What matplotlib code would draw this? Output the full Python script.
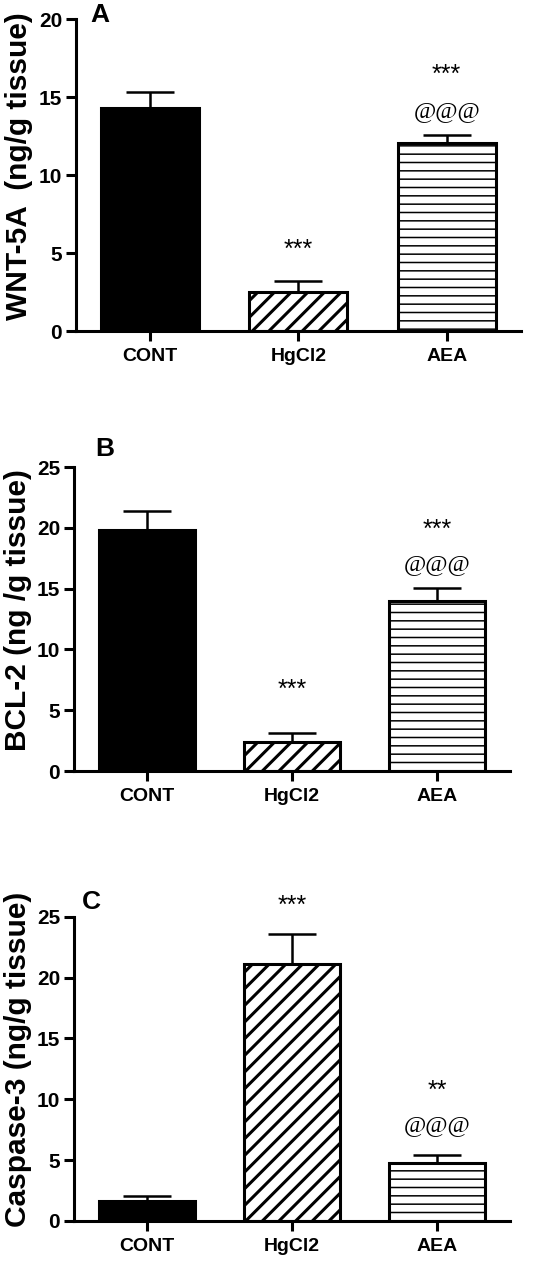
import numpy as np
import matplotlib
matplotlib.use('Agg')
import matplotlib.pyplot as plt

groups = ['CONT', 'HgCl2', 'AEA']

# panel A: WNT-5A
wnt_mean = [14.3, 2.5, 12.05]
wnt_err = [1.0, 0.72, 0.52]
wnt_stars = ['', '***', '***']
wnt_at = ['', '', '@@@']

# panel B: BCL-2
bcl_mean = [19.85, 2.4, 14.0]
bcl_err = [1.55, 0.75, 1.08]
bcl_stars = ['', '***', '***']
bcl_at = ['', '', '@@@']

# panel C: Caspase-3
casp_mean = [1.67, 21.1, 4.74]
casp_err = [0.35, 2.45, 0.68]
casp_stars = ['', '***', '**']
casp_at = ['', '', '@@@']

plt.rcParams['font.family'] = ['Liberation Sans', 'DejaVu Sans']
plt.rcParams['hatch.color'] = 'black'

fig = plt.figure(figsize=(5.5, 12.62), dpi=100)

panels = [
    dict(mean=wnt_mean, err=wnt_err, stars=wnt_stars, at=wnt_at, letter='A',
         ylabel='WNT-5A  (ng/g tissue)', ymax=20,
         rect=[0.138, 0.7377, 0.809, 0.2472], letter_xy=(0.182, 0.988),
         star_off=[0, 22, 43], at_off=[0, 0, 16.5]),
    dict(mean=bcl_mean, err=bcl_err, stars=bcl_stars, at=bcl_at, letter='B',
         ylabel='BCL-2 (ng /g tissue)', ymax=25,
         rect=[0.1345, 0.389, 0.793, 0.2409], letter_xy=(0.19, 0.644),
         star_off=[0, 31, 42], at_off=[0, 0, 17]),
    dict(mean=casp_mean, err=casp_err, stars=casp_stars, at=casp_at, letter='C',
         ylabel='Caspase-3 (ng/g tissue)', ymax=25,
         rect=[0.1345, 0.0325, 0.793, 0.2411], letter_xy=(0.167, 0.285),
         star_off=[0, 20.5, 46], at_off=[0, 0, 21.5]),
]

hatches = [None, '//', '--']
faces = ['black', 'white', 'white']
hatch_lw = [1.0, 2.2, 1.1]
x = np.arange(len(groups))
lw = 2.2

for p in panels:
    ax = fig.add_axes(p['rect'])
    for i in range(len(groups)):
        with plt.rc_context({'hatch.linewidth': hatch_lw[i]}):
            b = ax.bar(x[i], p['mean'][i], width=0.66, color=faces[i], edgecolor='black',
                       linewidth=lw, hatch=hatches[i], zorder=2)
        if hasattr(b[0], 'set_hatch_linewidth'):
            b[0].set_hatch_linewidth(hatch_lw[i])
    ax.errorbar(x, p['mean'], yerr=[np.zeros(3), p['err']], fmt='none', ecolor='black',
                elinewidth=1.8, capsize=17, capthick=1.8, zorder=1)

    for i in range(len(groups)):
        top = p['mean'][i] + p['err'][i]
        if p['stars'][i]:
            ax.annotate(p['stars'][i], (x[i], top), xytext=(0, p['star_off'][i]),
                        textcoords='offset points', ha='center', va='center',
                        fontsize=18, annotation_clip=False)
        if p['at'][i]:
            ax.annotate(p['at'][i], (x[i], top), xytext=(0, p['at_off'][i]),
                        textcoords='offset points', ha='center', va='center',
                        fontsize=17.5, family='Liberation Serif', annotation_clip=False)

    ax.set_xlim(-0.5, 2.5)
    ax.set_ylim(0, p['ymax'])
    ax.set_yticks(np.arange(0, p['ymax'] + 1, 5))
    ax.set_xticks(x)
    ax.set_xticklabels(groups)
    for s in ['top', 'right']:
        ax.spines[s].set_visible(False)
    for s in ['left', 'bottom']:
        ax.spines[s].set_linewidth(lw)
    ax.tick_params(axis='both', width=lw, length=7, pad=3)
    ax.tick_params(axis='y', labelsize=15)
    ax.tick_params(axis='x', labelsize=14, pad=5)
    for t in ax.get_xticklabels() + ax.get_yticklabels():
        t.set_fontweight('bold')
    ax.set_ylabel(p['ylabel'], fontsize=21.5, fontweight='bold')
    ax.yaxis.set_label_coords(-0.097, 0.53)
    fig.text(p['letter_xy'][0], p['letter_xy'][1], p['letter'], fontsize=19,
             fontweight='bold', ha='center', va='center')

fig.savefig('out.png', dpi=100)
